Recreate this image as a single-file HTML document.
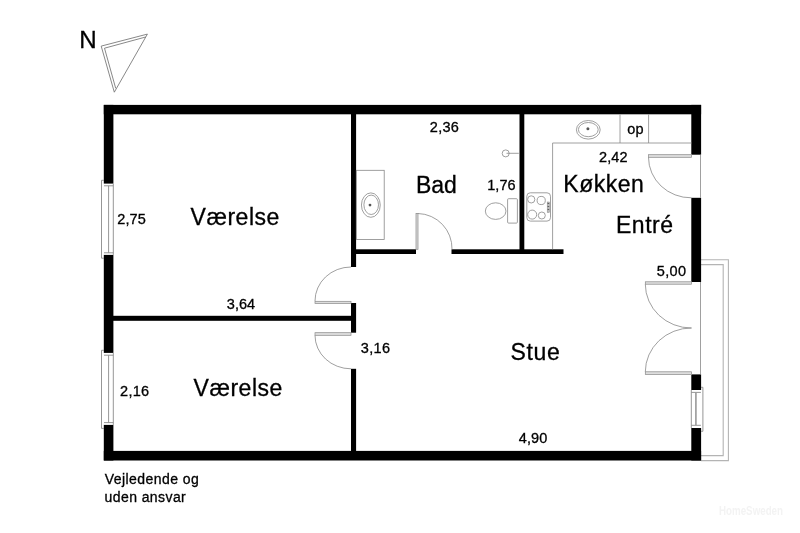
<!DOCTYPE html>
<html><head><meta charset="utf-8">
<style>
html,body{margin:0;padding:0;background:#fff;width:800px;height:533px;overflow:hidden}
svg{display:block;will-change:transform}
text{font-family:"Liberation Sans",sans-serif;fill:#000;stroke:#000;stroke-width:0.3px;paint-order:stroke}
</style></head><body>
<svg width="800" height="533" viewBox="0 0 800 533">
<rect x="0" y="0" width="800" height="533" fill="#fff"/>

<!-- compass -->
<g fill="none" stroke="#6a6a6a" stroke-width="0.8">
<polygon points="101.2,46.1 147.4,34.1 114.3,92.2"/>
<polyline points="145.7,37 104.5,48.2 115.7,88.3"/>
</g>

<!-- balcony -->
<g fill="none" stroke="#b4b4b4" stroke-width="1.1">
<path d="M701,259.7 H728.4 V460.6 H701"/>
<path d="M701,264.6 H723.2 V455.6 H701"/>
</g>

<!-- outer walls -->
<g fill="#000">
<rect x="103.8" y="104.9" width="597.3" height="9.4"/>
<rect x="103.8" y="450.9" width="597.3" height="9.6"/>
<rect x="103.8" y="104.9" width="9.6" height="78.7"/>
<rect x="103.8" y="254.9" width="9.6" height="98"/>
<rect x="103.8" y="424.9" width="9.6" height="35.6"/>
<rect x="691.3" y="104.9" width="9.8" height="49.8"/>
<rect x="691.3" y="197.8" width="9.8" height="84.2"/>
<rect x="691.3" y="374.4" width="9.8" height="15.6"/>
<rect x="691.3" y="428" width="9.8" height="32.5"/>
<!-- interior -->
<rect x="351" y="114" width="5.1" height="153"/>
<rect x="351" y="303" width="5.1" height="29.7"/>
<rect x="351" y="368.8" width="5.1" height="82.2"/>
<rect x="113" y="315.8" width="238" height="5"/>
<rect x="351" y="249.3" width="65" height="4.7"/>
<rect x="451.5" y="249.3" width="112" height="4.7"/>
<rect x="519.5" y="114" width="4.8" height="136"/>
</g>

<!-- windows left -->
<g fill="none" stroke="#8a8a8a" stroke-width="0.9">
<path d="M104,180.3 H101.5 V258.2 H104"/>
<path d="M104,185.8 H113.3 M104,252.8 H113.3"/>
<path d="M108.6,185.8 V252.8 M113.3,183.6 V254.9"/>
<path d="M104,350.3 H101.5 V428.4 H104"/>
<path d="M104,355.2 H113.3 M104,422.6 H113.3"/>
<path d="M108.6,355.2 V422.6 M113.3,352.9 V424.9"/>
<!-- right window -->
<path d="M701,387.3 H702.9 V431.3 H701"/>
<path d="M691.3,392.4 H700.9 M691.3,425.3 H700.9"/>
<path d="M691.3,390 V428"/>
</g>
<path d="M695.9,392.4 V425.3" stroke="#999" stroke-width="1.6" fill="none"/>

<!-- doors -->
<g fill="#ddd" stroke="#888" stroke-width="0.7">
<rect x="416" y="213.5" width="2" height="35.8"/>
<rect x="648.5" y="154.7" width="43" height="2.6"/>
<rect x="315" y="301.3" width="36" height="2.1"/>
<rect x="315" y="332.7" width="36" height="2.6"/>
<rect x="645.3" y="281.8" width="46.3" height="2.4"/>
<rect x="645.3" y="371.8" width="46.3" height="2.6"/>
</g>
<g fill="none" stroke="#888" stroke-width="0.8">
<path d="M418,213.5 A35,35 0 0 1 452,249.3"/>
<path d="M648.5,157.3 A42.5,40.5 0 0 0 691.5,197.8"/>
<line x1="700.5" y1="154.7" x2="700.5" y2="197.8"/>
<path d="M315,301 A36,34 0 0 1 351,267"/>
<path d="M315,335.3 A36,33.5 0 0 0 351,368.8"/>
<path d="M645.3,284.2 A46,44 0 0 0 691.5,328"/>
<path d="M645.3,371.8 A46,44 0 0 1 691.5,328"/>
<line x1="700.5" y1="282" x2="700.5" y2="374.4"/>
</g>

<!-- bathroom fixtures -->
<g fill="none" stroke="#888" stroke-width="0.8">
<rect x="356.3" y="170.3" width="27.9" height="69.1"/>
<ellipse cx="370.85" cy="205.1" rx="9.4" ry="12.2"/>
<ellipse cx="371.2" cy="204.8" rx="7.3" ry="9.7"/>
<circle cx="505.7" cy="153.4" r="3.5"/>
<line x1="506.5" y1="153.3" x2="518.8" y2="153.3"/>
<rect x="507.6" y="198.7" width="9.8" height="24.4" rx="1"/>
<ellipse cx="495.65" cy="211.1" rx="10.3" ry="8.3"/>
</g>
<circle cx="370" cy="205.1" r="1.4" fill="#555"/>

<!-- kitchen -->
<g fill="none" stroke="#888" stroke-width="0.8">
<line x1="552.6" y1="143" x2="691.5" y2="143"/>
<line x1="552.6" y1="143" x2="552.6" y2="249.3"/>
<line x1="620" y1="114.5" x2="620" y2="143"/>
<line x1="648.6" y1="114.5" x2="648.6" y2="143"/>
<ellipse cx="588.3" cy="129.8" rx="11.9" ry="9.3"/>
<ellipse cx="588.3" cy="129.6" rx="9.9" ry="7.1"/>
<rect x="526.8" y="192.8" width="23.7" height="28.3" rx="3.5"/>
<circle cx="531.25" cy="199.4" r="3.6"/>
<circle cx="541.2" cy="200.5" r="4.1"/>
<circle cx="532.2" cy="214.6" r="4.5"/>
<circle cx="541.8" cy="215.5" r="3.5"/>
</g>
<rect x="547.2" y="202" width="2.2" height="10.5" fill="#bbb" stroke="#888" stroke-width="0.5"/>
<path d="M547.6,203.5h1.6M547.6,206.5h1.6M547.6,209.5h1.6" stroke="#555" stroke-width="0.9"/>
<circle cx="587.9" cy="128.8" r="1.5" fill="#555"/>

<!-- labels -->
<text id="t1" x="117.20" y="224.4" font-size="14.5" textLength="28.58" lengthAdjust="spacing">2,75</text>
<text id="t2" x="190.60" y="224.5" font-size="23" textLength="88.73" lengthAdjust="spacing">Værelse</text>
<text id="t3" x="429.80" y="131.5" font-size="14.5" textLength="29.06" lengthAdjust="spacing">2,36</text>
<text id="t4" x="416.10" y="192.9" font-size="23" textLength="40.61" lengthAdjust="spacing">Bad</text>
<text id="t5" x="487.30" y="190" font-size="14.5" textLength="28.23" lengthAdjust="spacing">1,76</text>
<text id="t6" x="627.20" y="134.1" font-size="14.5" textLength="16.50" lengthAdjust="spacing">op</text>
<text id="t7" x="599.10" y="162" font-size="14.5" textLength="28.40" lengthAdjust="spacing">2,42</text>
<text id="t8" x="563.30" y="191.6" font-size="23" textLength="80.61" lengthAdjust="spacing">Køkken</text>
<text id="t9" x="615.90" y="232.8" font-size="23" textLength="57.17" lengthAdjust="spacing">Entré</text>
<text id="t10" x="656.80" y="275.75" font-size="14.5" textLength="29.29" lengthAdjust="spacing">5,00</text>
<text id="t11" x="226.80" y="309.25" font-size="14.5" textLength="28.26" lengthAdjust="spacing">3,64</text>
<text id="t12" x="360.80" y="353" font-size="14.5" textLength="29.30" lengthAdjust="spacing">3,16</text>
<text id="t13" x="510.50" y="360.3" font-size="23" textLength="49.40" lengthAdjust="spacing">Stue</text>
<text id="t14" x="120.05" y="396.25" font-size="14.5" textLength="29.10" lengthAdjust="spacing">2,16</text>
<text id="t15" x="193.60" y="396.0" font-size="23" textLength="88.73" lengthAdjust="spacing">Værelse</text>
<text id="t16" x="518.75" y="442.75" font-size="14.5" textLength="28.46" lengthAdjust="spacing">4,90</text>
<text id="t17" x="104.75" y="484" font-size="14" textLength="94.11" lengthAdjust="spacing">Vejledende og</text>
<text id="t18" x="104.55" y="502.4" font-size="14" textLength="81.21" lengthAdjust="spacing">uden ansvar</text>
<text id="t19" x="79.28" y="47.7" font-size="24" textLength="17.43" lengthAdjust="spacingAndGlyphs">N</text>
<text x="719" y="515" font-size="12" font-weight="bold" textLength="64" lengthAdjust="spacingAndGlyphs" style="fill:#f3f3f3;stroke:none">HomeSweden</text>
</svg>
</body></html>
